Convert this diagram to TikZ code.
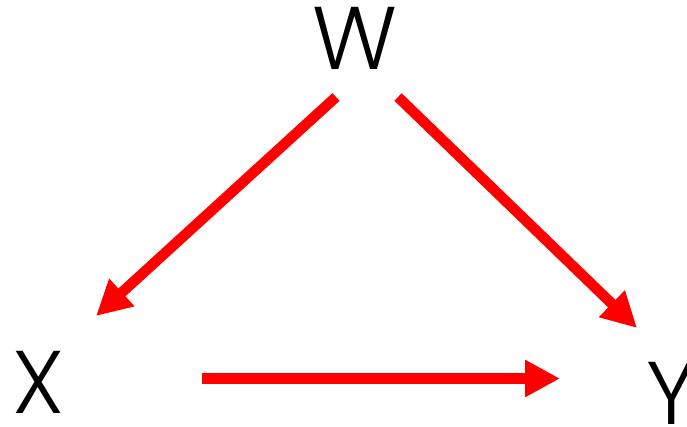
\documentclass[tikz,border=0pt]{standalone}
\usepackage{fontspec}
\setmainfont{Poppins}[UprightFont=* Light]
\usetikzlibrary{arrows.meta}
\definecolor{arrowred}{RGB}{255,0,0}
\tikzset{
  letter/.style={inner sep=0pt, font=\fontsize{89}{89}\selectfont, text=black},
  causal/.style={draw=arrowred, line width=10.5pt,
    -{Triangle[length=35pt,width=35pt,fill=arrowred]}}
}
\begin{document}
\begin{tikzpicture}[x=1pt,y=-1pt]
\useasboundingbox (0,0) rectangle (687,426);
\node[letter, anchor=base] (W) at (355,69) {W};
\node[letter, anchor=base] (X) at (39,413) {X};
\node[letter, anchor=base west] (Y) at (646,424) {Y};
\coordinate (wx1) at (336,97);
\coordinate (wx2) at (96,316);
\coordinate (wy1) at (398,97);
\coordinate (wy2) at (637,328);
\coordinate (xy1) at (202,378.5);
\coordinate (xy2) at (560,378.5);
\draw[causal] (wx1) -- (wx2);
\draw[causal] (wy1) -- (wy2);
\draw[causal] (xy1) -- (xy2);
\end{tikzpicture}
\end{document}
